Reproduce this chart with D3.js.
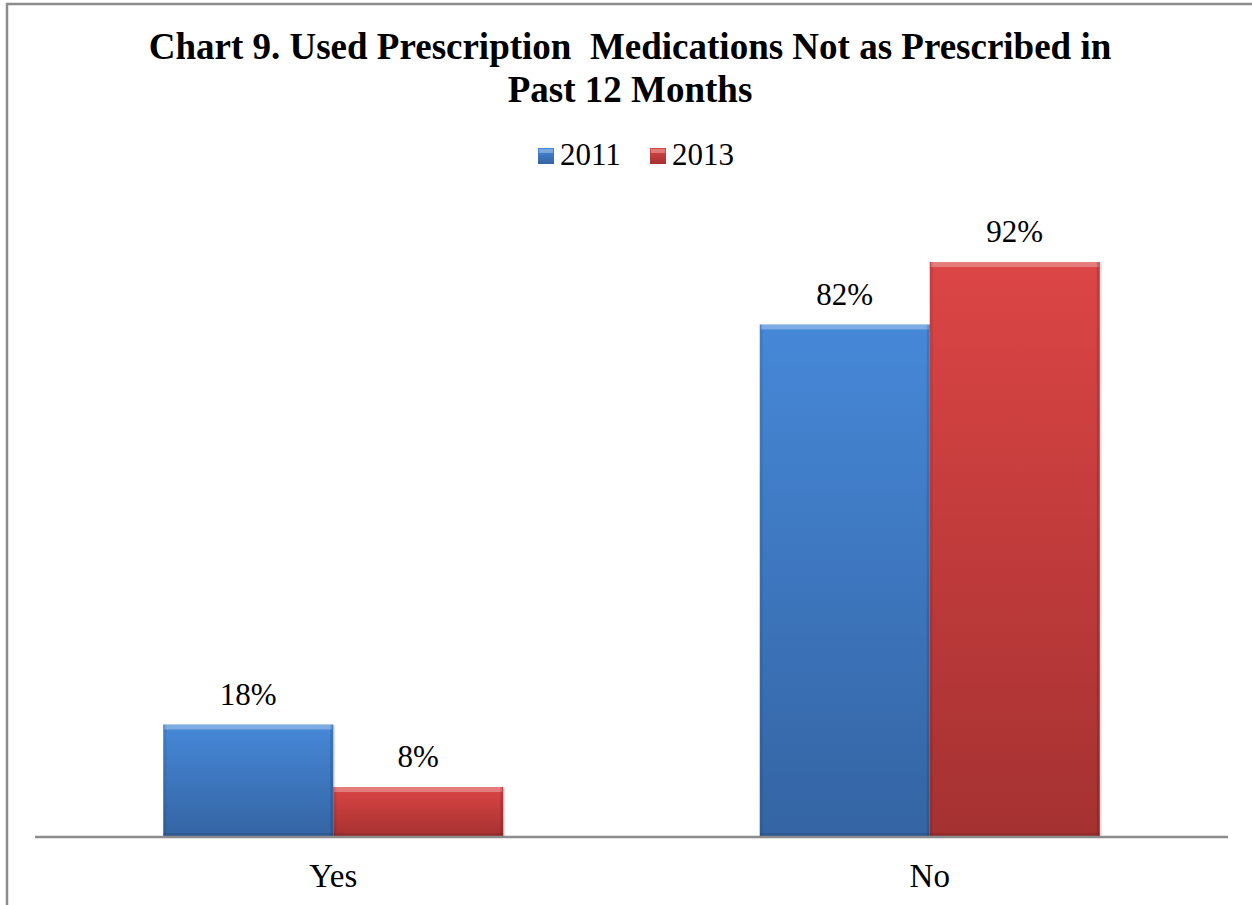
<!DOCTYPE html>
<html><head><meta charset="utf-8">
<script src="https://cdn.jsdelivr.net/npm/d3@7"></script>
<style>body{margin:0;background:#fff}svg{display:block}</style>
</head><body>
<svg id="c" width="1252" height="905"></svg>
<script>
const titleLines = ["Chart 9. Used Prescription  Medications Not as Prescribed in", "Past 12 Months"];
const categories = ["Yes", "No"];
const seriesNames = ["2011", "2013"];
const values2011 = [18, 82];
const values2013 = [8, 92];
const seriesColors = {"2011": ["#4688d8", "#3464a3"], "2013": ["#dc4545", "#a53131"]};

const svg = d3.select("#c");
const fontSerif = "'Liberation Serif','Times New Roman',serif";

// border
svg.append("rect").attr("x", 7).attr("y", 4).attr("width", 1260).attr("height", 920)
  .attr("fill", "#fff").attr("stroke", "#8c8c8c").attr("stroke-width", 2.5);

const defs = svg.append("defs");
seriesNames.forEach((s, i) => {
  const g = defs.append("linearGradient").attr("id", "g" + i).attr("x1", 0).attr("y1", 0).attr("x2", 0).attr("y2", 1);
  g.append("stop").attr("offset", 0).attr("stop-color", seriesColors[s][0]);
  g.append("stop").attr("offset", 1).attr("stop-color", seriesColors[s][1]);
});

const plot = {left: 35, right: 1228, top: 212, bottom: 837};
const x0 = d3.scaleBand().domain(categories).range([plot.left, plot.right]).paddingInner(0.43).paddingOuter(0.215);
const x1 = d3.scaleBand().domain(seriesNames).range([0, x0.bandwidth()]);
const y = d3.scaleLinear().domain([0, 100]).range([plot.bottom, plot.top]);

const data = categories.map((c, i) => ({cat: c, vals: [{s: "2011", v: values2011[i]}, {s: "2013", v: values2013[i]}]}));

const groups = svg.append("g").selectAll("g").data(data).join("g")
  .attr("transform", d => `translate(${x0(d.cat)},0)`);

groups.each(function(d) {
  const g = d3.select(this);
  d.vals.forEach((e, i) => {
    const bx = x1(e.s), bw = x1.bandwidth(), by = y(e.v), bh = y(0) - y(e.v);
    g.append("rect").attr("x", bx + 2).attr("y", by + 1).attr("width", bw).attr("height", bh)
      .attr("fill", "#000").attr("opacity", 0.12);
    g.append("rect").attr("x", bx).attr("y", by).attr("width", bw).attr("height", bh)
      .attr("fill", `url(#g${i})`);
    g.append("rect").attr("x", bx + 1).attr("y", by).attr("width", bw - 2).attr("height", 5)
      .attr("fill", "#fff").attr("opacity", 0.3);
    g.append("rect").attr("x", bx).attr("y", by).attr("width", 3).attr("height", bh).attr("fill", "#000").attr("opacity", 0.08);
    g.append("rect").attr("x", bx + bw - 3).attr("y", by).attr("width", 3).attr("height", bh).attr("fill", "#000").attr("opacity", 0.12);
    g.append("rect").attr("x", bx).attr("y", by + bh - 4).attr("width", bw).attr("height", 4).attr("fill", "#000").attr("opacity", 0.1);
    g.append("text").attr("x", bx + bw / 2).attr("y", by - 20)
      .attr("text-anchor", "middle").attr("font-family", fontSerif).attr("font-size", 31)
      .attr("fill", "#000").text(e.v + "%");
  });
});

// axis
const xAxis = d3.axisBottom(x0).tickSize(0).tickPadding(27);
const ax = svg.append("g").attr("transform", `translate(0,${plot.bottom})`).call(xAxis);
ax.select(".domain").attr("stroke", "#8c8c8c").attr("stroke-width", 2.5).attr("d", `M${plot.left},0H${plot.right}`);
ax.selectAll("text").attr("font-family", fontSerif).attr("font-size", 33).attr("fill", "#000");

// title
svg.append("g").selectAll("text").data(titleLines).join("text")
  .attr("x", 630).attr("y", (d, i) => 59 + i * 43).attr("text-anchor", "middle")
  .attr("font-family", fontSerif).attr("font-weight", "bold").attr("font-size", 37).attr("fill", "#000")
  .style("white-space", "pre")
  .text(d => d);

// legend
const leg = svg.append("g");
const legX = [538, 650];
seriesNames.forEach((s, i) => {
  const lg = leg.append("g").attr("transform", `translate(${legX[i]},148)`);
  lg.append("rect").attr("width", 16).attr("height", 16).attr("fill", `url(#g${i})`);
  lg.append("rect").attr("x", 1).attr("y", 1).attr("width", 14).attr("height", 4).attr("fill", "#fff").attr("opacity", 0.3);
  lg.append("text").attr("x", 22).attr("y", 17).attr("font-family", fontSerif).attr("font-size", 31).attr("fill", "#000").text(s);
});
</script>
</body></html>
